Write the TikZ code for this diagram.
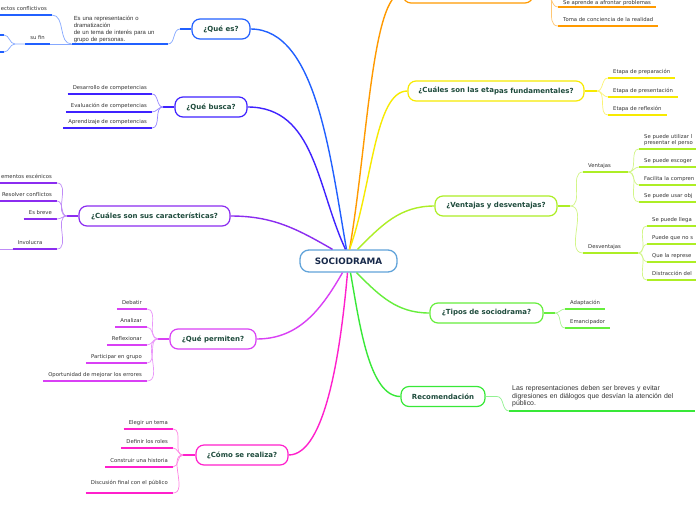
\documentclass[tikz,border=0pt]{standalone}
\usepackage{fontspec}
\setmainfont{DejaVu Sans}
\newfontfamily\libsans{Liberation Sans}
\definecolor{cBlue}{HTML}{2160FF}
\definecolor{cIndigo}{HTML}{3F22FF}
\definecolor{cPurple}{HTML}{8B2CF0}
\definecolor{cMagenta}{HTML}{D940F5}
\definecolor{cPink}{HTML}{FF20CC}
\definecolor{cOrange}{HTML}{FF9A00}
\definecolor{cYellow}{HTML}{F7EA00}
\definecolor{cLime}{HTML}{ADEE25}
\definecolor{cGreen}{HTML}{66EE3C}
\definecolor{cRec}{HTML}{38E838}
\definecolor{cCenter}{HTML}{62A4DA}
\definecolor{topictext}{HTML}{1E4B3C}
\definecolor{centertext}{HTML}{17294A}
\definecolor{leaftext}{HTML}{333333}
\begin{document}
\begin{tikzpicture}[x=1pt,y=-1pt,
  topic/.style={draw=#1, line width=1.2pt, rounded corners=8pt, fill=white,
    minimum height=20pt, inner sep=0pt, font=\fontsize{7}{8}\selectfont\bfseries, text=topictext},
  link/.style={draw=#1, line width=1.4pt},
  twig/.style={draw=#1!55, line width=0.7pt},
  stub/.style={draw=#1, line width=1.6pt},
  uline/.style={append after command={(\tikzlastnode.south west) edge[draw=#1, line width=1.8pt] (\tikzlastnode.south east)}},
  leafbase/.style={font=\fontsize{5.3}{6.3}\selectfont, text=leaftext, inner xsep=5pt,
    inner ysep=2.9pt, text height=4pt, text depth=1.2pt},
  leafL/.style={leafbase, anchor=south east, uline=#1},
  leafR/.style={leafbase, anchor=south west, uline=#1}]
\useasboundingbox (0,0) rectangle (696,520);
\clip (0,0) rectangle (696,520);
\fill[white] (0,0) rectangle (696,520);

% centre
\node[draw=cCenter, line width=1.3pt, rounded corners=9pt, fill=white, minimum width=97pt,
  minimum height=22pt, inner sep=0pt, font=\fontsize{8.8}{10}\selectfont\bfseries, text=centertext]
  (c) at (348.5,261) {SOCIODRAMA};

% topics
\node[topic=cBlue, minimum width=58pt] (qe) at (221,29) {¿Qué es?};
\node[topic=cIndigo, minimum width=72pt] (qb) at (211,107) {¿Qué busca?};
\node[topic=cPurple, minimum width=151pt] (car) at (154.5,216) {¿Cuáles son sus características?};
\node[topic=cMagenta, minimum width=86pt] (per) at (213,339) {¿Qué permiten?};
\node[topic=cPink, minimum width=92pt] (como) at (242,455) {¿Cómo se realiza?};
\node[topic=cOrange, minimum width=130pt] (ori) at (468,-7) {};
\node[topic=cYellow, minimum width=176pt] (eta) at (496,91) {¿Cuáles son las eta\raisebox{-1.2pt}{pas fundamentales?}};
\node[topic=cLime, minimum width=122pt] (ven) at (496,206) {¿Ventajas y desventajas?};
\node[topic=cGreen, minimum width=113pt] (tip) at (486.5,313) {¿Tipos de sociodrama?};
\node[topic=cRec, minimum width=84pt] (rec) at (443,396.5) {Recomendación};

% main connectors
\draw[link=cBlue] ([xshift=-2pt]c.north) to[out=100,in=0,in looseness=0.7] (qe.east);
\draw[link=cIndigo] ([xshift=-3pt]c.north) to[out=115,in=0] (qb.east);
\draw[link=cPurple] ([xshift=-16pt]c.north) to[out=150,in=0] (car.east);
\draw[link=cOrange] ([xshift=1pt]c.north) to[out=80,in=180,in looseness=0.3] (ori.west);
\draw[link=cYellow] ([xshift=1pt]c.north) to[out=70,in=180,in looseness=0.5] (eta.west);
\draw[link=cLime] ([xshift=9pt]c.north) to[out=45,in=180] (ven.west);
\draw[link=cMagenta] ([xshift=-6pt]c.south) to[out=-120,in=0] (per.east);
\draw[link=cPink] ([xshift=-1pt]c.south) to[out=-95,in=0,in looseness=0.5] (como.east);
\draw[link=cRec] ([xshift=2pt]c.south) to[out=-80,in=180,in looseness=0.6] (rec.west);
\draw[link=cGreen] ([xshift=8pt]c.south) to[out=-45,in=180] (tip.west);

% ¿Qué es?
\node[anchor=south east, text width=92pt, align=left, font=\libsans\fontsize{5.9}{6.7}\selectfont,
  text=leaftext, inner xsep=2pt, inner ysep=1.5pt, uline=cBlue] (es) at (168,44)
  {Es una representación o\\dramatización\\de un tema de interés para un\\grupo de personas.};
\node[leafL=cBlue] (ec) at (52,15) {ectos conflictivos};
\node[leafL=cBlue] (sf) at (50,44) {su fin};
\coordinate (qej) at (180,29);
\draw[stub=cBlue] (qe.west) -- (qej);
\draw[twig=cBlue] (qej) to[out=180,in=0] (es.south east);
\draw[twig=cBlue] (es.south west) to[out=180,in=0] (ec.south east);
\draw[twig=cBlue] (es.south west) -- (sf.south east);
\coordinate (sfj) at (15,44);
\coordinate (sfa) at (4,35);
\coordinate (sfb) at (4,52);
\draw[twig=cBlue] (sf.south west) -- (sfj) to[out=180,in=0] (sfa);
\draw[twig=cBlue] (sfj) to[out=180,in=0] (sfb);
\draw[cBlue, line width=1.8pt] (sfa) -- ++(-10,0);
\draw[cBlue, line width=1.8pt] (sfb) -- ++(-10,0);

% ¿Qué busca?
\node[leafL=cIndigo] (qb1) at (152,94) {Desarrollo de competencias};
\node[leafL=cIndigo] (qb2) at (152,112) {Evaluación de competencias};
\node[leafL=cIndigo] (qb3) at (152,128) {Aprendizaje de competencias};
\coordinate (qbj) at (163,107);
\draw[stub=cIndigo] (qb.west) -- (qbj);
\foreach \n in {qb1,qb2,qb3} \draw[twig=cIndigo] (qbj) to[out=180,in=0] (\n.south east);

% características
\node[leafL=cPurple] (ca1) at (57,183) {ementos escénicos};
\node[leafL=cPurple] (ca2) at (57,201) {Resolver conflictos};
\node[leafL=cPurple] (ca3) at (57,219) {Es breve};
\node[leafL=cPurple, text width=34pt, align=left] (ca4) at (57,249) {Involucra};
\coordinate (caj) at (67,216);
\coordinate (caout) at (-5,249);
\draw[stub=cPurple] (car.west) -- (caj);
\foreach \n in {ca1,ca2,ca3,ca4} \draw[twig=cPurple] (caj) to[out=180,in=0] (\n.south east);
\draw[twig=cPurple] (ca4.south west) -- (caout);

% ¿Qué permiten?
\node[leafL=cMagenta] (pe1) at (147,309) {Debatir};
\node[leafL=cMagenta] (pe2) at (147,327) {Analizar};
\node[leafL=cMagenta] (pe3) at (147,345) {Reflexionar};
\node[leafL=cMagenta] (pe4) at (147,363) {Participar en grupo};
\node[leafL=cMagenta] (pe5) at (147,381) {Oportunidad de mejorar los errores};
\coordinate (pej) at (158,339);
\draw[stub=cMagenta] (per.west) -- (pej);
\foreach \n in {pe1,pe2,pe3,pe4,pe5} \draw[twig=cMagenta] (pej) to[out=180,in=0] (\n.south east);

% ¿Cómo se realiza?
\node[leafL=cPink] (co1) at (173,429) {Elegir un tema};
\node[leafL=cPink] (co2) at (173,448) {Definir los roles};
\node[leafL=cPink] (co3) at (173,467) {Construir una historia};
\node[leafL=cPink, inner ysep=6.9pt] (co4) at (173,493) {Discusión final con el público};
\coordinate (coj) at (183,455);
\draw[stub=cPink] (como.west) -- (coj);
\foreach \n in {co1,co2,co3,co4} \draw[twig=cPink] (coj) to[out=180,in=0] (\n.south east);

% orange (top)
\node[leafR=cOrange, inner ysep=1.3pt] (or1) at (558,7) {Se aprende a afrontar problemas};
\node[leafR=cOrange] (or2) at (558,26) {Toma de conciencia de la realidad};
\coordinate (orj) at (545,-7);
\draw[stub=cOrange] (ori.east) -- (orj);
\foreach \n in {or1,or2} \draw[twig=cOrange] (orj) to[out=0,in=180] (\n.south west);

% etapas
\node[leafR=cYellow] (et1) at (608,78) {Etapa de preparación};
\node[leafR=cYellow] (et2) at (608,97) {Etapa de presentación};
\node[leafR=cYellow] (et3) at (608,115) {Etapa de reflexión};
\coordinate (etj) at (597,91);
\draw[stub=cYellow] (eta.east) -- (etj);
\foreach \n in {et1,et2,et3} \draw[twig=cYellow] (etj) to[out=0,in=180] (\n.south west);

% ventajas y desventajas
\node[leafR=cLime, text width=35pt, align=left] (v1) at (583,172) {Ventajas};
\node[leafR=cLime, text width=45pt, align=left] (v2) at (583,253) {Desventajas};
\coordinate (vej) at (570,206);
\draw[stub=cLime] (ven.east) -- (vej);
\foreach \n in {v1,v2} \draw[twig=cLime] (vej) to[out=0,in=180] (\n.south west);
\node[leafR=cLime, text width=60pt, align=left, text height={}, text depth={}] (va1) at (639,149)
  {Se puede utilizar  l\\presentar el perso};
\node[leafR=cLime, text width=60pt, align=left] (va2) at (639,167) {Se puede escoger};
\node[leafR=cLime, text width=60pt, align=left] (va3) at (639,185) {Facilita la compren};
\node[leafR=cLime, text width=60pt, align=left] (va4) at (639,202) {Se puede usar obj};
\foreach \n in {va1,va2,va3,va4} \draw[twig=cLime] (v1.south east) to[out=0,in=180] (\n.south west);
\node[leafR=cLime, text width=60pt, align=left] (de1) at (647,226) {Se puede llega};
\node[leafR=cLime, text width=60pt, align=left] (de2) at (647,244) {Puede que no s};
\node[leafR=cLime, text width=60pt, align=left] (de3) at (647,262) {Que la represe};
\node[leafR=cLime, text width=60pt, align=left] (de4) at (647,280) {Distracción del};
\foreach \n in {de1,de2,de3,de4} \draw[twig=cLime] (v2.south east) to[out=0,in=180] (\n.south west);

% tipos
\node[leafR=cGreen] (ti1) at (565,309) {Adaptación};
\node[leafR=cGreen] (ti2) at (565,328) {Emancipador};
\coordinate (tij) at (555,313);
\draw[stub=cGreen] (tip.east) -- (tij);
\foreach \n in {ti1,ti2} \draw[twig=cGreen] (tij) to[out=0,in=180] (\n.south west);

% recomendación
\node[anchor=south west, text width=180pt, align=left, font=\libsans\fontsize{6.9}{7.6}\selectfont,
  text=leaftext, inner xsep=3pt, inner ysep=3.5pt, uline=cRec] (rt) at (509,411)
  {Las representaciones deben ser breves y evitar\\digresiones en diálogos que desvían la atención del\\público.};
\coordinate (rej) at (497,396.5);
\draw[twig=cRec] (rec.east) -- (rej) to[out=0,in=180] (rt.south west);
\end{tikzpicture}
\end{document}
